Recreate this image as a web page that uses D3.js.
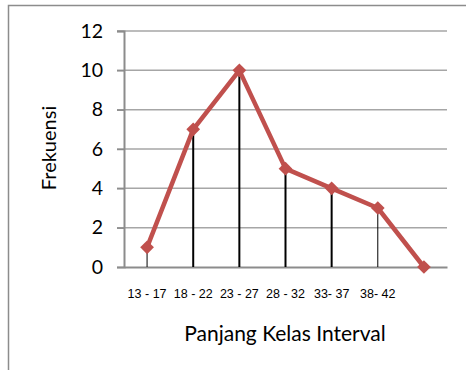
<!DOCTYPE html>
<html>
<head>
<meta charset="utf-8">
<script src="https://cdn.jsdelivr.net/npm/d3@7"></script>
<style>
  body { margin: 0; background: #fff; }
  svg { display: block; }
</style>
</head>
<body>
<div id="chart"></div>
<script>
// Data
const categories = ["13 - 17", "18 - 22", "23 - 27", "28 - 32", "33- 37", "38- 42", ""];
const frequencies = [1, 7, 10, 5, 4, 3, 0];
const yTicks = [0, 2, 4, 6, 8, 10, 12];

const width = 466, height = 370;
const margin = { top: 31, right: 19, bottom: 103, left: 124 };

const svg = d3.select("#chart").append("svg")
    .attr("width", width)
    .attr("height", height);

// outer chart frame
svg.append("rect")
    .attr("x", 8.5).attr("y", 5.5)
    .attr("width", 470).attr("height", 380)
    .attr("fill", "none")
    .attr("stroke", "#8c8c8c")
    .attr("stroke-width", 1.5);

const x = d3.scaleBand()
    .domain(categories.map((c, i) => i))
    .range([margin.left, width - margin.right]);

const y = d3.scaleLinear()
    .domain([0, 12])
    .range([height - margin.bottom, margin.top]);

// gridlines
svg.append("g")
    .selectAll("line")
    .data(yTicks.filter(d => d > 0))
    .join("line")
    .attr("x1", margin.left - 7)
    .attr("x2", width - margin.right)
    .attr("y1", d => y(d))
    .attr("y2", d => y(d))
    .attr("stroke", "#a6a6a6")
    .attr("stroke-width", 1.5);

// y axis
const yAxis = svg.append("g")
    .attr("transform", `translate(${margin.left},0)`)
    .call(d3.axisLeft(y).tickValues(yTicks).tickSize(7).tickPadding(14));
yAxis.select(".domain").attr("stroke", "#8c8c8c").attr("stroke-width", 2);
yAxis.selectAll(".tick line").attr("stroke", "#8c8c8c").attr("stroke-width", 1.5);
yAxis.selectAll(".tick text")
    .attr("font-family", "Lato, 'Open Sans', sans-serif")
    .attr("font-size", 19.5)
    .attr("fill", "#000");

// x axis
const xAxis = svg.append("g")
    .attr("transform", `translate(0,${y(0)})`)
    .call(d3.axisBottom(x).tickSize(0).tickPadding(22).tickFormat(i => categories[i]));
xAxis.select(".domain").attr("stroke", "#8c8c8c").attr("stroke-width", 2);
xAxis.selectAll(".tick text")
    .attr("font-family", "'Liberation Sans', Arial, sans-serif")
    .attr("font-size", 12.5)
    .attr("fill", "#000");

// drop lines from each point to the axis
svg.append("g")
    .selectAll("line")
    .data(frequencies.map((v, i) => ({ v, i })).filter(d => d.v > 0))
    .join("line")
    .attr("x1", d => x(d.i) + x.bandwidth() / 2)
    .attr("x2", d => x(d.i) + x.bandwidth() / 2)
    .attr("y1", d => y(d.v))
    .attr("y2", y(0))
    .attr("stroke", "#000")
    .attr("stroke-width", d => (d.i === 0 || d.i === 5) ? 1 : 2);

// polygon line
const line = d3.line()
    .x((d, i) => x(i) + x.bandwidth() / 2)
    .y(d => y(d));

svg.append("path")
    .datum(frequencies)
    .attr("d", line)
    .attr("fill", "none")
    .attr("stroke", "#c0504d")
    .attr("stroke-width", 4.5)
    .attr("stroke-linejoin", "round");

// diamond markers
svg.append("g")
    .selectAll("path")
    .data(frequencies)
    .join("path")
    .attr("transform", (d, i) => `translate(${x(i) + x.bandwidth() / 2},${y(d)})`)
    .attr("d", d3.symbol(d3.symbolDiamond2, 120))
    .attr("fill", "#c0504d");

// axis titles
svg.append("text")
    .attr("x", 285)
    .attr("y", 341)
    .attr("text-anchor", "middle")
    .attr("font-family", "Lato, 'Open Sans', sans-serif")
    .attr("font-size", 21)
    .attr("fill", "#000")
    .text("Panjang Kelas Interval");

svg.append("text")
    .attr("transform", "translate(56,148) rotate(-90)")
    .attr("text-anchor", "middle")
    .attr("font-family", "Lato, 'Open Sans', sans-serif")
    .attr("font-size", 20)
    .attr("fill", "#000")
    .text("Frekuensi");
</script>
</body>
</html>
